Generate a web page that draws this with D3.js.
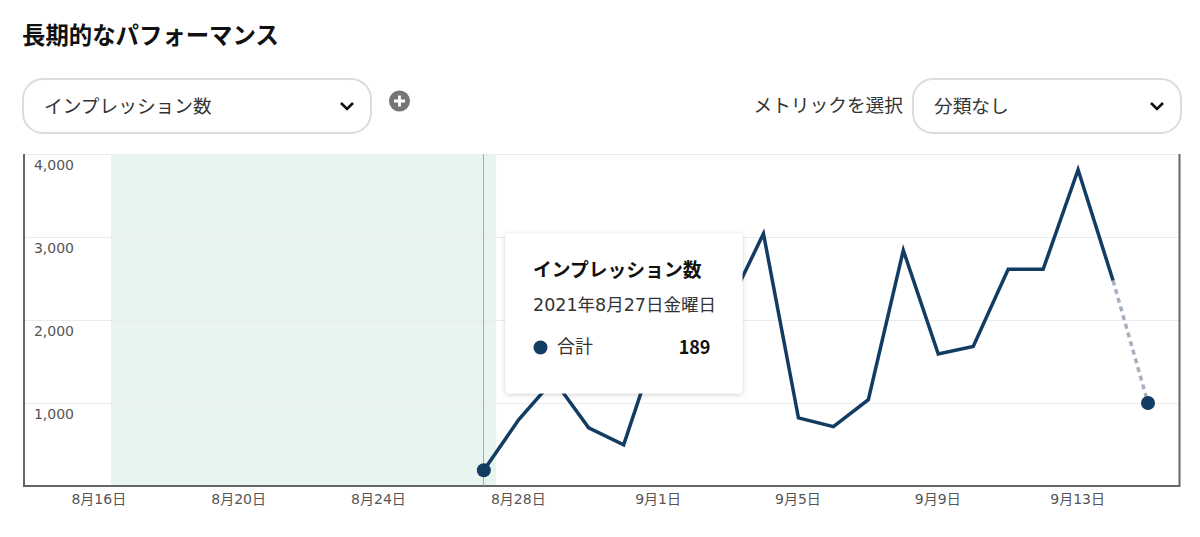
<!DOCTYPE html>
<html lang="ja"><head><meta charset="utf-8">
<script src="https://cdn.jsdelivr.net/npm/d3@7"></script>
<style>
html,body{margin:0;background:#fff;overflow:hidden}
svg{display:block}
text{font-family:"DejaVu Sans","Noto Sans CJK JP",sans-serif}
</style></head><body><svg id="c" width="1200" height="537"></svg>
<script>
const title = "長期的なパフォーマンス";
const metricLabel = "インプレッション数";
const breakdownCaption = "メトリックを選択";
const breakdownLabel = "分類なし";
const solidDates = ["2021-08-27","2021-08-28","2021-08-29","2021-08-30","2021-08-31","2021-09-01","2021-09-02","2021-09-03","2021-09-04","2021-09-05","2021-09-06","2021-09-07","2021-09-08","2021-09-09","2021-09-10","2021-09-11","2021-09-12","2021-09-13","2021-09-14"];
const solidValues = [189,800,1280,700,495,1760,2000,2170,3040,820,715,1040,2840,1590,1680,2610,2610,3810,2475];
const partialDates = ["2021-09-14","2021-09-15"];
const partialValues = [2475,1000];
const yTicks = [1000,2000,3000,4000];
const xTickDates = ["2021-08-16","2021-08-20","2021-08-24","2021-08-28","2021-09-01","2021-09-05","2021-09-09","2021-09-13"];
const bandRange = ["2021-08-16T08:00","2021-08-27T08:30"];
const hoverDate = "2021-08-27";
const tooltipLines = {title:"インプレッション数",date:"2021年8月27日金曜日",label:"合計",value:"189"};

const navy="#133c62", P=d3.timeParse("%Y-%m-%d"), PT=d3.timeParse("%Y-%m-%dT%H:%M");
const svg=d3.select("#c");
const L=24,R=1179.5,T=154,B=486;
const x=d3.scaleTime().domain([P("2021-08-16"),P("2021-09-15")]).range([99.3,1148]);
const y=d3.scaleLinear().domain([0,4000]).range([B,T]);

const defs=svg.append("defs");
const f=defs.append("filter").attr("id","sh").attr("x","-10%").attr("y","-10%").attr("width","120%").attr("height","125%");
f.append("feDropShadow").attr("dx",0).attr("dy",1).attr("stdDeviation",2.5).attr("flood-color","#000").attr("flood-opacity",.2);

svg.append("text").attr("x",22).attr("y",44).attr("font-size",23.4).attr("font-weight",700).attr("fill","#111").text(title);

function dropdown(x0,x1,label,tx,fs){
  svg.append("rect").attr("x",x0).attr("y",79).attr("width",x1-x0).attr("height",54).attr("rx",20)
    .attr("fill","#fff").attr("stroke","#dcdcdc").attr("stroke-width",2);
  svg.append("text").attr("x",tx).attr("y",113).attr("font-size",fs).attr("fill","#333").text(label);
  const cx=x1-24;
  svg.append("path").attr("d",`M${cx-6},103 L${cx},109 L${cx+6},103`).attr("fill","none").attr("stroke","#111").attr("stroke-width",2.6);
}
dropdown(23,371,metricLabel,44,18.7);
dropdown(913,1181,breakdownLabel,934,18.7);
svg.append("circle").attr("cx",399.5).attr("cy",101).attr("r",10.5).attr("fill","#767676");
svg.append("path").attr("d","M399.5,95.5V106.5M394,101H405").attr("stroke","#fff").attr("stroke-width",2.8);
svg.append("text").attr("x",903).attr("y",112).attr("text-anchor","end").attr("font-size",18.7).attr("fill","#333").text(breakdownCaption);

svg.append("rect").attr("x",x(PT(bandRange[0]))).attr("y",T).attr("width",x(PT(bandRange[1]))-x(PT(bandRange[0]))).attr("height",B-T).attr("fill","#e7f4ef");

const yAxis=d3.axisLeft(y).tickValues(yTicks).tickSize(L-R).tickFormat(d3.format(","));
const gy=svg.append("g").attr("transform",`translate(${L},0)`).call(yAxis);
gy.select(".domain").remove();
gy.selectAll(".tick line").attr("stroke","#ebebeb");
gy.selectAll(".tick text").attr("x",50).attr("dy",0).attr("y",15).attr("text-anchor","end").attr("font-size",14).attr("fill","#555");

svg.append("path").attr("d",`M${L},${T}V${B}H${R}V${T}`).attr("fill","none").attr("stroke","#666").attr("stroke-width",2);

const xAxis=d3.axisBottom(x).tickValues(xTickDates.map(P)).tickSize(0).tickPadding(8).tickFormat(d=>`${d.getMonth()+1}月${d.getDate()}日`);
const gx=svg.append("g").attr("transform",`translate(-1,${B})`).call(xAxis);
gx.select(".domain").remove();
gx.selectAll("text").attr("font-size",14).attr("fill","#555");

const hx=Math.floor(x(P(hoverDate)))+0.5;
svg.append("line").attr("x1",hx).attr("x2",hx).attr("y1",T).attr("y2",B).attr("stroke","#9fb0ac").attr("stroke-width",1);

const line=d3.line().x(d=>x(d[0])).y(d=>y(d[1]));
svg.append("path").datum(partialDates.map((d,i)=>[P(d),partialValues[i]])).attr("d",line)
  .attr("fill","none").attr("stroke","#a6b1c0").attr("stroke-width",3.5).attr("stroke-dasharray","5 4");
svg.append("path").datum(solidDates.map((d,i)=>[P(d),solidValues[i]])).attr("d",line)
  .attr("fill","none").attr("stroke",navy).attr("stroke-width",3.5).attr("stroke-linejoin","miter").attr("stroke-miterlimit",10);
svg.append("circle").attr("cx",x(P(solidDates[0]))).attr("cy",y(solidValues[0])).attr("r",7).attr("fill",navy);
const lastI=partialDates.length-1;
svg.append("circle").attr("cx",x(P(partialDates[lastI]))).attr("cy",y(partialValues[lastI])).attr("r",7).attr("fill",navy);

const tip=svg.append("g");
tip.append("rect").attr("x",505.5).attr("y",233.5).attr("width",237).attr("height",160).attr("rx",4).attr("fill","#fff").attr("filter","url(#sh)");
tip.append("text").attr("x",533).attr("y",276.5).attr("font-size",18.8).attr("font-weight",700).attr("fill","#111").text(tooltipLines.title);
tip.append("text").attr("x",533).attr("y",311).attr("font-size",17.5).attr("fill","#333").text(tooltipLines.date);
tip.append("circle").attr("cx",540.5).attr("cy",347.5).attr("r",7).attr("fill",navy);
tip.append("text").attr("x",557).attr("y",353).attr("font-size",18).attr("fill","#333").text(tooltipLines.label);
tip.append("text").attr("x",710.5).attr("y",353.5).attr("text-anchor","end").attr("font-size",18).attr("font-weight",700).attr("fill","#111").style("font-family",'"Noto Sans CJK JP",sans-serif').text(tooltipLines.value);
</script></body></html>
